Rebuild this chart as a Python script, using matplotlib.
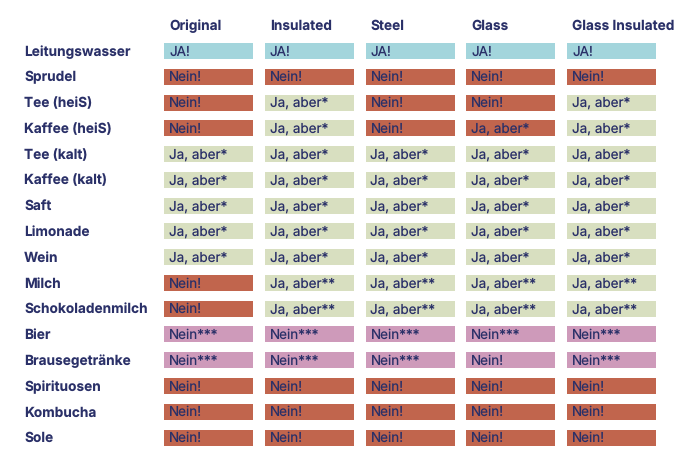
import matplotlib
matplotlib.use("Agg")
import matplotlib.pyplot as plt

plt.rcParams["text.hinting"] = "none"
plt.rcParams["text.hinting_factor"] = 1

drinks = ["Leitungswasser", "Sprudel", "Tee (heiS)", "Kaffee (heiS)", "Tee (kalt)", "Kaffee (kalt)",
          "Saft", "Limonade", "Wein", "Milch", "Schokoladenmilch", "Bier", "Brausegetränke",
          "Spirituosen", "Kombucha", "Sole"]
bottles = ["Original", "Insulated", "Steel", "Glass", "Glass Insulated"]

Y = "JA!"; N = "Nein!"; A = "Ja, aber*"; B = "Ja, aber**"; S = "Nein***"
col_original = [Y, N, N, N, A, A, A, A, A, N, N, S, S, N, N, N]
col_insulated = [Y, N, A, A, A, A, A, A, A, B, B, S, S, N, N, N]
col_steel = [Y, N, N, N, A, A, A, A, A, B, B, S, S, N, N, N]
col_glass = [Y, N, N, A, A, A, A, A, A, B, B, S, N, N, N, N]
col_glass_ins = [Y, N, A, A, A, A, A, A, A, B, B, S, S, N, N, N]
answers = [col_original, col_insulated, col_steel, col_glass, col_glass_ins]

# cell colour groups: 0 blue, 1 red, 2 green, 3 purple
grp_original = [0, 1, 1, 1, 2, 2, 2, 2, 2, 1, 1, 3, 3, 1, 1, 1]
grp_insulated = [0, 1, 2, 2, 2, 2, 2, 2, 2, 2, 2, 3, 3, 1, 1, 1]
grp_steel = [0, 1, 1, 1, 2, 2, 2, 2, 2, 2, 2, 3, 3, 1, 1, 1]
grp_glass = [0, 1, 1, 1, 2, 2, 2, 2, 2, 2, 2, 3, 3, 1, 1, 1]
grp_glass_ins = [0, 1, 2, 2, 2, 2, 2, 2, 2, 2, 2, 3, 3, 1, 1, 1]
groups = [grp_original, grp_insulated, grp_steel, grp_glass, grp_glass_ins]
palette = ["#a3d5dc", "#c1654d", "#d8dfc0", "#ce9aba"]

INK = "#2a3068"
FONT = ["Inter", "DejaVu Sans"]

W, H = 688, 455
PX, PY = 100.75, 25.77
fig = plt.figure(figsize=(W / 100, H / 100), dpi=100)
ax = fig.add_axes([0, 0, 1, 1])
ax.set_xlim(-208.5 / PX, (W - 208.5) / PX)
ax.set_ylim((H - 51) / PY, -51 / PY)
ax.axis("off")

bw, bh = 89 / PX, 16 / PY
dy = -0.5 / PY
for c, (ans, grp) in enumerate(zip(answers, groups)):
    ax.barh(range(len(drinks)), [bw] * len(drinks), left=c - bw / 2, height=bh,
            color=[palette[g] for g in grp], linewidth=0)
    for r, t in enumerate(ans):
        ax.text(c - bw / 2 + 5 / PX, r + dy, t, va="center_baseline", ha="left",
                color=INK, fontsize=9.7, family=FONT)
    ax.text(c - bw / 2 + 5 / PX, -26 / PY, bottles[c], va="center_baseline", ha="left",
            color=INK, fontsize=9.85, fontweight="bold", family=FONT)
for r, d in enumerate(drinks):
    ax.text((24 - 208.5) / PX, r + dy, d, va="center_baseline", ha="left",
            color=INK, fontsize=9.85, fontweight="bold", family=FONT)

fig.savefig("out.png", dpi=100, facecolor="white")
